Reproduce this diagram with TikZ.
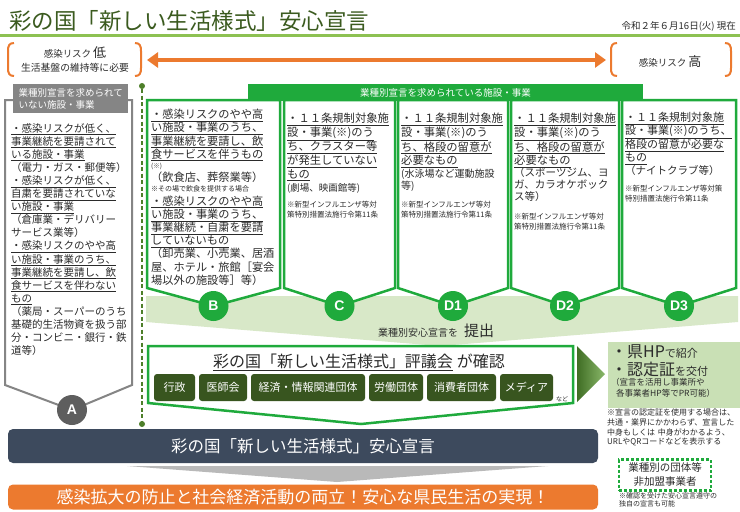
\documentclass[tikz,border=0pt]{standalone}
\usepackage{fontspec}
\newfontfamily\jp{Noto Sans CJK JP}
\newfontfamily\lsans{Liberation Sans}
\usetikzlibrary{arrows.meta}
\definecolor{tgreen}{HTML}{3B5B1F}
\definecolor{lgreen}{HTML}{8DC152}
\definecolor{cgreen}{HTML}{1FAA3C}
\definecolor{dgreen}{HTML}{38551F}
\definecolor{dashc}{HTML}{4E7F2A}
\definecolor{orng}{HTML}{EC7A2F}
\definecolor{navy}{HTML}{3D4A5D}
\definecolor{agrey}{HTML}{858585}
\definecolor{cgrey}{HTML}{5E5E5E}
\definecolor{txt}{HTML}{2B2B2B}
\definecolor{pale}{HTML}{C9E0B5}
\definecolor{band}{HTML}{D8E8C8}
\definecolor{trid}{HTML}{3F6D24}
\definecolor{tril}{HTML}{8AB86A}
\newcommand\UL[1]{\underline{#1}}
\newcommand\fs[2]{\fontsize{#1}{#2}\selectfont}
\newcommand\gcol[4]{%
  \draw[colbox] (#1,100) -- (#2,100) -- (#2,288) -- ({(#1+#2)/2},306) -- (#1,288) -- cycle;
  \node[letter] (#3) at ({(#1+#2)/2},306) {#4};}
\tikzset{
  every node/.style={text=txt},
  coltext/.style={anchor=north west, inner sep=0pt, text width=#1, align=left},
  colbox/.style={draw=cgreen, line width=2.5pt, fill=white, line join=miter},
  letter/.style={circle, fill=cgreen, inner sep=0pt, minimum size=30pt, text=white, font=\lsans\bfseries\fs{14}{14}},
  btn/.style={fill=dgreen, rounded corners=3pt, text=white, minimum height=27pt, inner sep=0pt, font=\jp\fs{11}{12}},
  bracket/.style={draw=orng, line width=2pt},
}
\begin{document}
\begin{tikzpicture}[x=1pt,y=-1pt]
\useasboundingbox (0,0) rectangle (740,512);
\fill[white] (0,0) rectangle (740,512);

% title
\node[anchor=west, inner sep=0pt, font=\jp\fs{22.5}{25}, text=tgreen] (title) at (9,21) {彩の国「新しい生活様式」安心宣言};
\node[anchor=east, inner sep=0pt, font=\jp\fs{9.5}{11}] (date) at (736,26) {令和２年６月16日(火) 現在};
\draw[lgreen, line width=3pt] (0,35.5) -- (740,35.5);

% risk brackets
\draw[bracket] (14,43) .. controls (9,43) and (8,46) .. (8,51) -- (8,68) .. controls (8,73) and (9,76) .. (14,76);
\draw[bracket] (135,43) .. controls (140,43) and (141,46) .. (141,51) -- (141,68) .. controls (141,73) and (140,76) .. (135,76);
\draw[bracket] (617,43) .. controls (612,43) and (611,46) .. (611,51) -- (611,68) .. controls (611,73) and (612,76) .. (617,76);
\draw[bracket] (725,43) .. controls (730,43) and (731,46) .. (731,51) -- (731,68) .. controls (731,73) and (730,76) .. (725,76);
\node[inner sep=0pt, font=\jp] (lowrisk) at (75,53) {\fs{9.5}{12}感染リスク\hspace{2pt}{\fs{13}{14}低}};
\node[inner sep=0pt, font=\jp\fs{9.8}{11}] (need) at (75,68) {生活基盤の維持等に必要};
\node[inner sep=0pt, font=\jp] (highrisk) at (670,62) {\fs{9.5}{12}感染リスク\hspace{2pt}{\fs{13}{14}高}};
\coordinate (arrL) at (147,60);
\coordinate (arrR) at (606,60);
\draw[orng, line width=4pt, {Triangle[length=11pt,width=15pt]}-{Triangle[length=11pt,width=15pt]}] (arrL) -- (arrR);

% band
\fill[band] (146,296) -- (738,296) -- (738,322) -- (440,346) -- (146,322) -- cycle;
\node[inner sep=0pt, font=\jp] (teishutsu) at (436,331) {{\fs{10}{12}業種別安心宣言を}\hspace{6pt}{\fs{15}{16}提出}};

% column A
\draw[draw=agrey, line width=2pt, fill=white] (5,100) -- (132,100) -- (132,385) -- (72,410) -- (5,385) -- cycle;
\node[fill=agrey, text=white, anchor=north west, minimum width=115pt, minimum height=29pt, inner sep=2pt, align=left, font=\jp\fs{9.5}{12}] (ahead) at (13,84) {業種別宣言を求められて\\いない施設・事業};
\node[coltext=120pt, font=\jp\fs{10.5}{13.1}] (atext) at (11,123) {%
\UL{・感染リスクが低く、}\\
\UL{事業継続を要請されて}\\
\UL{いる施設・事業}\\
（電力・ガス・郵便等）\\
\UL{・感染リスクが低く、}\\
\UL{自粛を要請されていな}\\
\UL{い施設・事業}\\
（倉庫業・デリバリー\\
サービス業等）\\
\UL{・感染リスクのやや高}\\
\UL{い施設・事業のうち、}\\
\UL{事業継続を要請し、飲}\\
\UL{食サービスを伴わない}\\
\UL{もの}\\
（薬局・スーパーのうち\\
基礎的生活物資を扱う部\\
分・コンビニ・銀行・鉄\\
道等）};
\node[circle, fill=cgrey, minimum size=30pt, inner sep=0pt, text=white, font=\lsans\bfseries\fs{14}{14}] (cA) at (72,410) {A};

% green columns
\gcol{147}{280}{cB}{B}
\gcol{284}{395}{cC}{C}
\gcol{398}{508}{cD1}{D1}
\gcol{511}{619}{cD2}{D2}
\gcol{622}{736}{cD3}{D3}

\node[coltext=130pt, font=\jp\fs{11.2}{13.2}] (btext) at (151,109) {%
\UL{・感染リスクのやや高}\\
\UL{い施設・事業のうち、}\\
\UL{事業継続を要請し、飲}\\
\UL{食サービスを伴うもの}\\
{\fs{6.5}{10.5}(※)\par}
（飲食店、葬祭業等）\\
{\fs{7}{10}※その場で飲食を提供する場合\par}
\UL{・感染リスクのやや高}\\
\UL{い施設・事業のうち、}\\
\UL{事業継続・自粛を要請}\\
\UL{していないもの}\\
（卸売業、小売業、居酒\\
屋、ホテル・旅館［宴会\\
場以外の施設等］等）};

\node[coltext=108pt, font=\jp\fs{11.3}{14}] (ctext) at (287,113) {%
\UL{・１１条規制対象施}\\
\UL{設・事業(※)のう}\\
\UL{ち、クラスター等}\\
\UL{が発生していない}\\
\UL{もの}\\
{\fs{9.5}{12.5}(劇場、映画館等)\par}
\vspace{6pt}
{\fs{7.5}{10}※新型インフルエンザ等対\\策特別措置法施行令第11条\par}};

\node[coltext=106pt, font=\jp\fs{11.3}{13.5}] (d1text) at (401,113) {%
\UL{・１１条規制対象施}\\
\UL{設・事業(※)のう}\\
\UL{ち、格段の留意が}\\
\UL{必要なもの}\\
{\fs{10}{12.5}(水泳場など運動施設\\等)\par}
\vspace{8pt}
{\fs{7.5}{10}※新型インフルエンザ等対\\策特別措置法施行令第11条\par}};

\node[coltext=105pt, font=\jp\fs{11.3}{13.5}] (d2text) at (514,113) {%
\UL{・１１条規制対象施}\\
\UL{設・事業(※)のう}\\
\UL{ち、格段の留意が}\\
\UL{必要なもの}\\
{\fs{10.5}{12}（スポーツジム、ヨ\\ガ、カラオケボック\\ス等）\par}
\vspace{9pt}
{\fs{7.5}{10}※新型インフルエンザ等対\\策特別措置法施行令第11条\par}};

\node[coltext=112pt, font=\jp\fs{11}{13.5}] (d3text) at (625,112) {%
\UL{・１１条規制対象施}\\
\UL{設・事業(※)のうち、}\\
\UL{格段の留意が必要な}\\
\UL{もの}\\
{\fs{10.5}{13}（ナイトクラブ等）\par}
\vspace{7pt}
{\fs{7.5}{10}※新型インフルエンザ等対策\\特別措置法施行令第11条\par}};

\node[fill=cgreen, text=white, minimum width=395pt, minimum height=17pt, inner sep=0pt, font=\jp\fs{9.5}{10}] (ghead) at (445.5,92.5) {業種別宣言を求められている施設・事業};

% dashed divider
\node[circle, fill=dashc, minimum size=6pt, inner sep=0pt] (dtop) at (142,86) {};
\node[circle, fill=dashc, minimum size=6pt, inner sep=0pt] (dbot) at (142,424) {};
\draw[dashc, line width=2pt, dash pattern=on 4pt off 2.5pt] (dtop) -- (dbot);

% council box
\draw[colbox] (148,346) -- (573,346) -- (573,403) -- (361,424) -- (148,403) -- cycle;
\node[inner sep=0pt, font=\jp\fs{16}{18}] (council) at (359,362) {\UL{彩の国「新しい生活様式」評議会}\hspace{4pt}が確認};
\node[btn, minimum width=41pt] (bgov) at (174.5,387.5) {行政};
\node[btn, minimum width=48pt] (bmed) at (223,387.5) {医師会};
\node[btn, minimum width=114pt] (beco) at (308,387.5) {経済・情報関連団体};
\node[btn, minimum width=54pt] (blab) at (396,387.5) {労働団体};
\node[btn, minimum width=69pt] (bcon) at (461.5,387.5) {消費者団体};
\node[btn, minimum width=53pt] (bmedia) at (526.5,387.5) {メディア};
\node[inner sep=0pt, font=\jp\fs{6}{7}] (nado) at (562,399) {など};

% arrow triangle and right box
\shade[left color=trid, right color=tril] (577,346) -- (605,374) -- (577,402) -- cycle;
\node[fill=pale, anchor=north west, minimum width=132pt, minimum height=66pt, inner sep=0pt] (hpbox) at (608,342) {};
\node[coltext=130pt, font=\jp] (hptext) at (611,344) {%
{\fs{11}{18}{\fs{16}{18}・県HP}で紹介\\{\fs{16}{18}・認定証}を交付\par}
{\fs{8.5}{10.5}（宣言を活用し事業所や\\\hspace*{5pt}各事業者HP等でPR可能）\par}};
\node[coltext=134pt, font=\jp\fs{8}{9.6}] (note1) at (607,409) {%
※宣言の認定証を使用する場合は、\\共通・業界にかかわらず、宣言した\\中身もしくは 中身がわかるよう、\\URLやQRコードなどを表示する};
\node[draw=cgreen, line width=2.5pt, dash pattern=on 3pt off 2pt, minimum width=92pt, minimum height=31pt, inner sep=0pt, align=center, font=\jp\fs{10.5}{14}] (nonmem) at (665,475) {業種別の団体等\\非加盟事業者};
\node[coltext=122pt, font=\jp\fs{7}{8.5}] (note2) at (619,492) {※確認を受けた安心宣言遵守の\\独自の宣言も可能};

% bottom bars
\node[fill=navy, rounded corners=5pt, minimum width=590pt, minimum height=34pt, inner sep=0pt, text=white, font=\jp\fs{16.5}{18}] (decl) at (303,446) {彩の国「新しい生活様式」安心宣言};
\fill[gray!55] (127,466) -- (548,466) -- (337,482) -- cycle;
\node[fill=orng, rounded corners=5pt, minimum width=590pt, minimum height=25pt, inner sep=0pt, text=white, font=\jp\fs{17}{18}] (goal) at (303,497) {感染拡大の防止と社会経済活動の両立！安心な県民生活の実現！};
\end{tikzpicture}
\end{document}
